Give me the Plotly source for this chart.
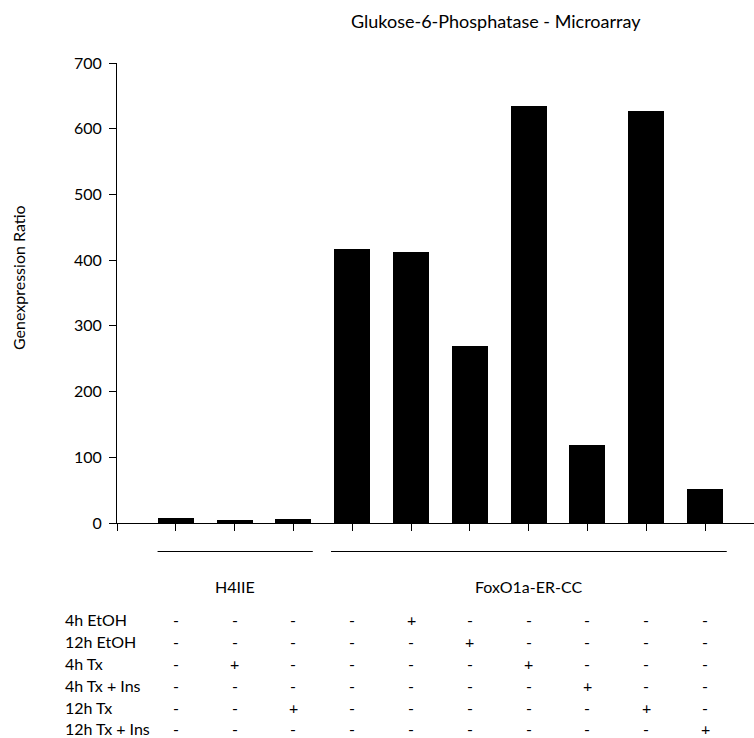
import plotly.graph_objects as go

# ---- data ----
conditions = ["H4IIE", "H4IIE 4h Tx", "H4IIE 12h Tx",
              "FoxO1a", "4h EtOH", "12h EtOH", "4h Tx", "4h Tx + Ins", "12h Tx", "12h Tx + Ins"]
ratio = [8, 5, 6.5, 417, 412, 270, 635, 119, 627, 52]

row_labels = ["4h EtOH", "12h EtOH", "4h Tx", "4h Tx + Ins", "12h Tx", "12h Tx + Ins"]
table = [
    ["-", "-", "-", "-", "+", "-", "-", "-", "-", "-"],
    ["-", "-", "-", "-", "-", "+", "-", "-", "-", "-"],
    ["-", "+", "-", "-", "-", "-", "+", "-", "-", "-"],
    ["-", "-", "-", "-", "-", "-", "-", "+", "-", "-"],
    ["-", "-", "+", "-", "-", "-", "-", "-", "+", "-"],
    ["-", "-", "-", "-", "-", "-", "-", "-", "-", "+"],
]
groups = [("H4IIE", -0.31, 2.33), ("FoxO1a-ER-CC", 2.64, 9.37)]
y_ticks = [0, 100, 200, 300, 400, 500, 600, 700]

title = "Glukose-6-Phosphatase - Microarray"
y_title = "Genexpression Ratio"

# ---- layout constants ----
W, H = 754, 738
ML, MR, MT, MB = 117, 0, 63, 215
PH = H - MT - MB
FONT = "Lato, Carlito, Calibri, sans-serif"
FS = 16

def py(ypx):
    return (H - MB - ypx) / PH

def pxx(xpx):
    return (xpx - ML) / (W - ML - MR)

xpos = list(range(len(ratio)))

fig = go.Figure()
fig.add_trace(go.Bar(x=xpos, y=ratio, width=0.61, marker=dict(color="black", line=dict(width=0)),
                     hovertext=conditions, showlegend=False))

annotations = []
# title
annotations.append(dict(text=title, xref="paper", yref="paper", x=pxx(496), y=py(21),
                        xanchor="center", yanchor="middle", showarrow=False,
                        font=dict(size=18, family=FONT, color="black")))
# y title
annotations.append(dict(text=y_title, xref="paper", yref="paper", x=pxx(18), y=py(278),
                        xanchor="center", yanchor="middle", textangle=-90, showarrow=False,
                        font=dict(size=FS, family=FONT, color="black")))

shapes = []
for name, x0, x1 in groups:
    shapes.append(dict(type="line", xref="x", yref="paper", x0=x0, x1=x1, y0=py(551.5), y1=py(551.5),
                       line=dict(color="black", width=1)))
    annotations.append(dict(text=name, xref="x", yref="paper", x=(x0 + x1) / 2, y=py(586),
                            xanchor="center", yanchor="middle", showarrow=False,
                            font=dict(size=FS, family=FONT, color="black")))

row_y = [619, 641, 663, 685, 707, 728]
for r, lab in enumerate(row_labels):
    annotations.append(dict(text=lab, xref="paper", yref="paper", x=pxx(63), y=py(row_y[r]),
                            xanchor="left", yanchor="middle", showarrow=False,
                            font=dict(size=FS, family=FONT, color="black")))
    for c, sym in enumerate(table[r]):
        annotations.append(dict(text=sym, xref="x", yref="paper", x=xpos[c], y=py(row_y[r]),
                                xanchor="center", yanchor="middle", showarrow=False,
                                font=dict(size=FS, family=FONT, color="black")))

fig.update_layout(
    width=W, height=H,
    margin=dict(l=ML, r=MR, t=MT, b=MB, pad=0),
    paper_bgcolor="white", plot_bgcolor="white",
    bargap=0,
    xaxis=dict(range=[-1, -1 + (W - ML - MR) / 58.8], tickvals=[-1] + xpos,
               ticktext=[""] * (len(xpos) + 1), ticks="outside", ticklen=7, tickcolor="black",
               showline=True, linecolor="black", linewidth=1, showgrid=False, zeroline=False,
               fixedrange=True),
    yaxis=dict(range=[0, 700], tickvals=y_ticks, ticks="outside", ticklen=7, tickcolor="black",
               showline=True, linecolor="black", linewidth=1, showgrid=False, zeroline=False,
               tickfont=dict(size=FS, family=FONT, color="black"), ticklabelstandoff=4),
    annotations=annotations, shapes=shapes,
)
fig.write_html("out.html")
